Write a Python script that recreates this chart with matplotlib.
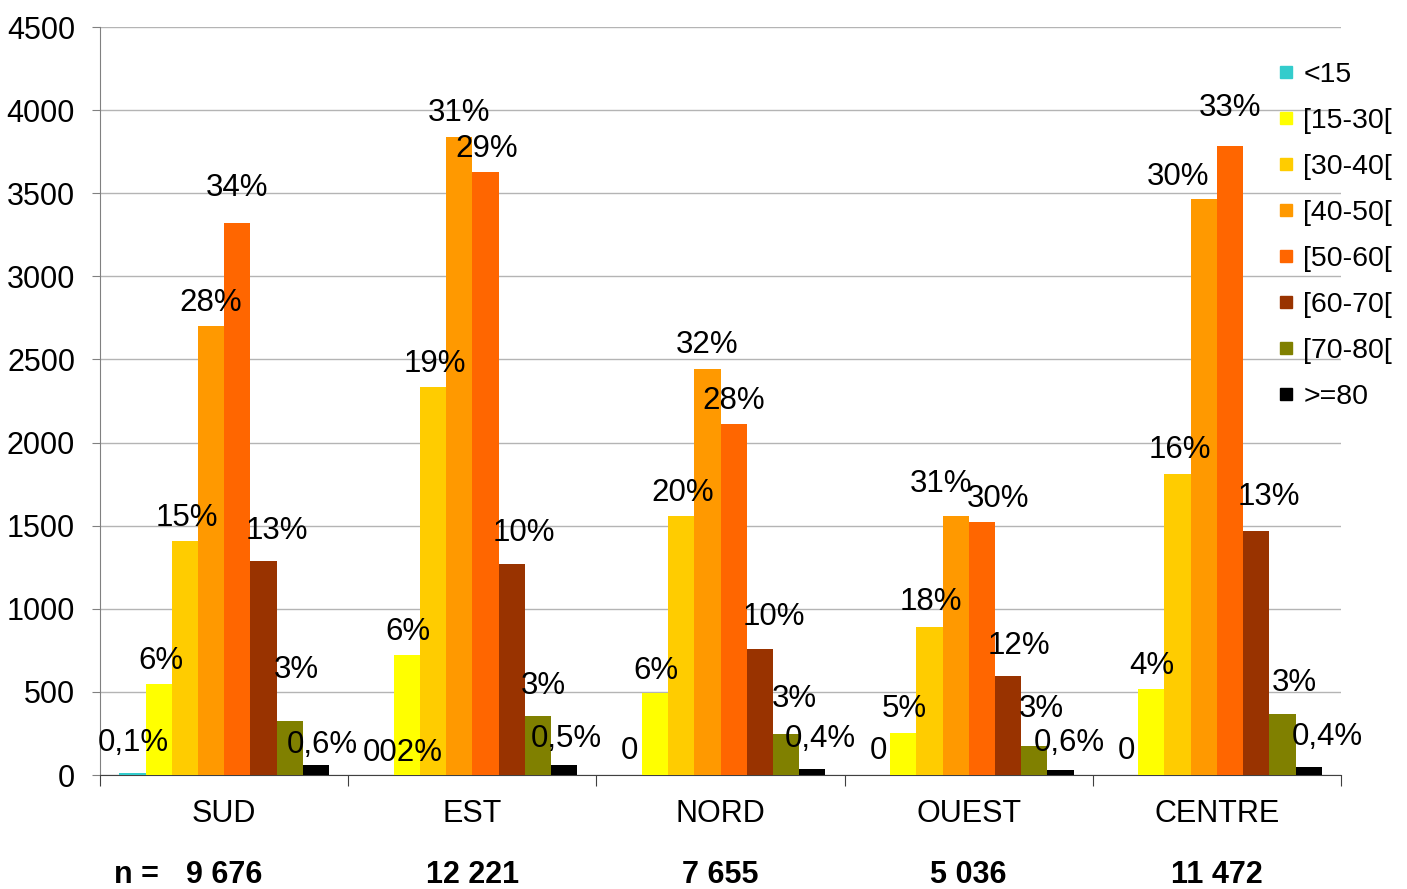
import matplotlib.pyplot as plt
from matplotlib.lines import Line2D
import matplotlib.transforms as mtransforms

plt.rcParams["font.family"] = ["Liberation Sans", "DejaVu Sans"]

regions = ["SUD", "EST", "NORD", "OUEST", "CENTRE"]
n_totals = ["9 676", "12 221", "7 655", "5 036", "11 472"]
age_groups = ["<15", "[15-30[", "[30-40[", "[40-50[", "[50-60[", "[60-70[", "[70-80[", ">=80"]
colors = ["#33CCCC", "#FFFF00", "#FFCC00", "#FF9900", "#FF6600", "#993300", "#808000", "#000000"]

# counts per region, one list per age group
counts = {
    "<15":     [10, 2, 0, 0, 0],
    "[15-30[": [547, 722, 493, 253, 517],
    "[30-40[": [1408, 2335, 1558, 890, 1811],
    "[40-50[": [2701, 3839, 2443, 1558, 3466],
    "[50-60[": [3321, 3628, 2112, 1522, 3785],
    "[60-70[": [1288, 1270, 758, 596, 1468],
    "[70-80[": [325, 355, 247, 175, 367],
    ">=80":    [60, 60, 36, 30, 48],
}

# percentage labels per region (in age-group order)
pct_labels = [
    ["0,1%", "6%", "15%", "28%", "34%", "13%", "3%", "0,6%"],
    ["002%", "6%", "19%", "31%", "29%", "10%", "3%", "0,5%"],
    ["0", "6%", "20%", "32%", "28%", "10%", "3%", "0,4%"],
    ["0", "5%", "18%", "31%", "30%", "12%", "3%", "0,6%"],
    ["0", "4%", "16%", "30%", "33%", "13%", "3%", "0,4%"],
]

# label placement relative to bar top (pixels)
label_offsets = [
    [(1, 33), (2, 26), (2, 26), (0, 26), (0, 38), (13, 33), (7, 54), (6, 23)],
    [(22, 25), (1, 26), (2, 26), (0, 27), (1, 26), (12, 34), (5, 33), (2, 29)],
    [(1, 27), (1, 25), (1, 26), (0, 27), (0, 26), (14, 35), (8, 38), (8, 33)],
    [(1, 27), (1, 27), (1, 28), (-15, 35), (16, 26), (11, 33), (7, 40), (9, 30)],
    [(1, 27), (0, 26), (2, 27), (-26, 25), (0, 41), (13, 37), (12, 34), (19, 33)],
]

fig = plt.figure(figsize=(14.07, 8.89), dpi=100)
ax = fig.add_axes([0.0711, 0.1282, 0.882, 0.8414])

width = 0.1056
x = list(range(len(regions)))
for j, grp in enumerate(age_groups):
    pos = [xi + (j - 3.5) * width for xi in x]
    bars = ax.bar(pos, counts[grp], width=width, color=colors[j], zorder=3)
    for i, b in enumerate(bars):
        dx, dy = label_offsets[i][j]
        ax.annotate(pct_labels[i][j], (b.get_x() + b.get_width() / 2, b.get_height()),
                    xytext=(dx, dy - 3), textcoords="offset pixels",
                    ha="center", va="center", fontsize=22.5, zorder=5)

ax.set_xlim(-0.5, 4.5)
ax.set_ylim(0, 4500)
ax.set_yticks(range(0, 4501, 500))
ax.yaxis.grid(True, color="#b4b4b4", lw=1, zorder=0)
ax.tick_params(axis="y", labelsize=22, length=6, pad=12, color="#808080")

ax.set_xticks([-0.5, 0.5, 1.5, 2.5, 3.5, 4.5])
ax.set_xticklabels([])
ax.set_xticks(x, minor=True)
ax.set_xticklabels(regions, minor=True)
ax.tick_params(axis="x", which="major", length=8, color="#404040")
ax.tick_params(axis="x", which="minor", length=0, pad=17, labelsize=22)

for s in ["top", "right"]:
    ax.spines[s].set_visible(False)
ax.spines["left"].set_color("#808080")
ax.spines["bottom"].set_color("#404040")

trans = mtransforms.blended_transform_factory(ax.transData, fig.transFigure)
for i, n in enumerate(n_totals):
    ax.text(x[i], 0.016, n, transform=trans, ha="center", va="center",
            fontsize=22, fontweight="bold")
fig.text(0.097, 0.016, "n =", ha="center", va="center", fontsize=22, fontweight="bold")

handles = [Line2D([], [], marker="s", ls="", color=c, markersize=9) for c in colors]
fig.legend(handles, age_groups, loc="upper left", bbox_to_anchor=(0.9, 0.943),
           frameon=False, fontsize=20.5, handlelength=0.6, handletextpad=0.3,
           labelspacing=0.7, borderaxespad=0)

fig.savefig("out.png", dpi=100)
